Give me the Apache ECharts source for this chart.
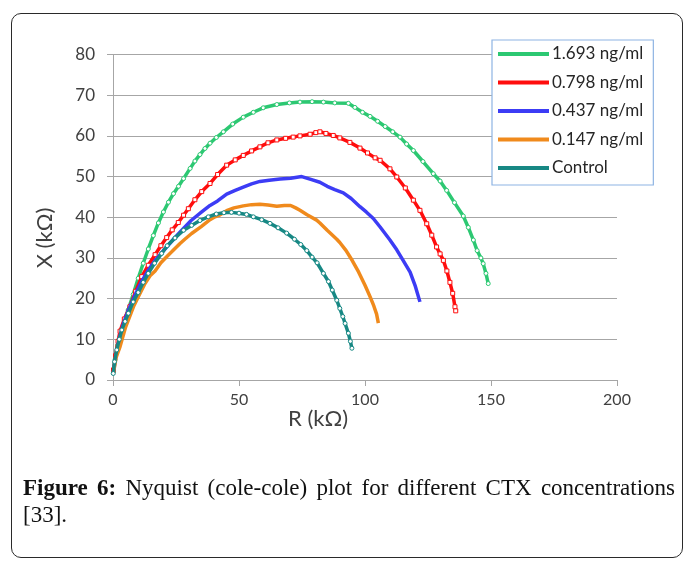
<!DOCTYPE html>
<html>
<head>
<meta charset="utf-8">
<script src="https://cdn.jsdelivr.net/npm/echarts@6/dist/echarts.min.js"></script>
<style>
  html, body { margin: 0; padding: 0; background: #fff; }
  #wrap { position: relative; width: 683px; height: 561px; overflow: hidden; }
  #chart { position: absolute; left: 0; top: 0; width: 683px; height: 561px; }
  #frame { position: absolute; left: 11px; top: 13px; width: 672px; height: 545px;
           border: 1.5px solid #2a2a2a; border-radius: 10px; box-sizing: border-box; pointer-events: none; }
  .cap { position: absolute; left: 23px; width: 652px; font-family: "Liberation Serif", "DejaVu Serif", serif;
         font-size: 23px; line-height: 27px; color: #111; white-space: nowrap; }
  #cap1 { top: 474px; text-align: justify; text-align-last: justify; }
  #cap2 { top: 501px; }
</style>
</head>
<body>
<div id="wrap">
  <div id="chart"></div>
  <div id="frame"></div>
  <div class="cap" id="cap1"><b>Figure 6:</b> Nyquist (cole-cole) plot for different CTX concentrations</div>
  <div class="cap" id="cap2">[33].</div>
</div>
<script>
// Series names (legend)
const seriesNames = ['1.693 ng/ml', '0.798 ng/ml', '0.437 ng/ml', '0.147 ng/ml', 'Control'];

// Axis tick settings
const xTicks = [0, 50, 100, 150, 200];
const yTicks = [0, 10, 20, 30, 40, 50, 60, 70, 80];
const xAxisTitle = 'R (kΩ)';
const yAxisTitle = 'X (kΩ)';

// Data: [R (kΩ), X (kΩ)]
const conc1693 = [
  [0.2,2.0],[0.8,5.0],[1.8,8.5],[3.0,11.5],[4.5,14.5],[6.0,17.2],[8.0,21.0],[10.0,25.0],[12.0,28.7],
  [14.0,32.2],[16.0,35.5],[18.0,38.6],[20.0,41.3],[22.0,43.7],[24.0,45.8],[26.0,47.6],[28.0,49.5],
  [30.6,52.0],[32.5,53.8],[34.5,55.4],[36.5,56.9],[38.5,58.2],[41.0,59.6],[43.8,61.0],[47.5,62.9],
  [51.7,64.6],[55.7,65.8],[59.6,66.9],[65.0,67.7],[70.0,68.1],[74.2,68.3],[79.0,68.4],[83.5,68.3],
  [88.0,68.1],[93.4,68.0],[96.0,67.0],[99.0,65.8],[102.0,64.8],[105.0,63.6],[108.0,62.3],[111.0,61.0],
  [113.9,59.7],[116.5,58.0],[119.2,56.4],[123.0,53.7],[127.1,50.7],[129.8,48.9],[132.4,46.6],
  [135.5,43.6],[139.0,40.3],[141.0,37.5],[143.0,34.4],[144.5,31.8],[146.0,30.0],[146.9,28.6],
  [148.0,26.2],[148.9,23.7]
];
const conc0798 = [
  [0.2,2.5],[1.0,6.0],[2.0,9.5],[2.8,12.0],[4.5,15.0],[6.7,18.0],[9.0,21.8],[11.4,25.4],[14.0,28.2],
  [16.7,30.8],[19.0,33.0],[21.3,35.0],[23.5,36.9],[25.9,38.7],[28.0,40.5],[29.9,42.1],[32.5,44.3],
  [35.2,46.3],[38.5,48.3],[41.5,50.5],[45.1,52.8],[48.5,54.1],[51.7,55.2],[55.0,56.3],[58.3,57.3],
  [61.5,58.3],[65.0,59.0],[68.5,59.4],[71.5,59.7],[74.2,60.0],[78.2,60.4],[80.5,60.8],[82.1,61.0],
  [84.5,60.6],[87.4,60.1],[90.0,59.5],[94.0,58.4],[98.0,57.0],[101.0,55.8],[104.0,54.6],[106.0,54.0],
  [109.9,51.9],[112.6,49.9],[116.0,47.2],[119.2,44.2],[121.8,41.7],[124.5,38.4],[126.5,35.6],
  [128.4,32.7],[129.8,31.0],[131.1,29.4],[132.5,26.8],[133.7,24.0],[134.8,21.3],[135.7,18.0],[136.0,17.0]
];
const conc0437 = [
  [0.2,2.0],[1.2,6.0],[2.5,10.2],[4.0,13.6],[6.0,17.0],[8.5,20.5],[11.0,23.8],[14.0,27.0],[17.0,29.6],
  [20.6,32.2],[24.0,34.6],[27.3,36.8],[31.0,39.2],[35.2,41.3],[38.5,42.9],[41.5,44.0],[45.1,45.7],
  [48.5,46.6],[51.7,47.4],[55.0,48.2],[58.3,48.8],[62.0,49.1],[66.3,49.4],[70.5,49.6],[74.9,50.0],
  [78.5,49.3],[82.1,48.6],[85.0,47.6],[88.0,46.8],[91.4,46.0],[94.5,44.6],[98.0,42.6],[100.5,41.3],
  [103.3,39.7],[106.0,37.6],[109.9,34.4],[112.6,32.0],[115.0,29.5],[117.9,26.5],[120.0,23.0],[121.8,19.2]
];
const conc0147 = [
  [0.2,1.8],[1.2,5.5],[2.8,8.2],[5.0,13.0],[8.1,18.0],[10.0,20.4],[12.5,23.5],[14.7,25.6],[16.7,26.8],
  [19.0,28.8],[21.3,30.3],[23.3,31.5],[26.5,33.5],[28.5,34.6],[31.2,36.0],[35.0,37.7],[38.5,39.4],
  [40.5,40.1],[42.5,40.6],[45.1,41.6],[48.0,42.3],[51.7,42.8],[55.0,43.1],[58.3,43.2],[61.5,43.0],
  [65.0,42.7],[68.0,42.9],[70.5,42.9],[72.5,42.3],[74.2,41.7],[77.0,40.6],[80.8,39.3],[82.1,38.6],
  [85.0,36.8],[88.8,34.6],[90.0,33.8],[92.5,31.8],[95.0,29.3],[97.5,26.5],[100.0,23.3],[102.0,20.5],
  [103.5,18.2],[104.6,16.2],[105.3,14.0]
];
const control = [
  [0.1,1.6],[0.6,4.5],[1.5,7.4],[2.5,10.0],[3.5,12.3],[4.8,14.4],[6.1,16.4],[8.0,19.2],[10.0,21.5],
  [12.0,24.0],[14.0,26.2],[16.5,28.7],[19.3,31.1],[21.5,33.0],[24.6,34.9],[28.0,36.8],[31.2,38.0],
  [34.5,39.2],[37.8,40.1],[41.0,40.8],[44.0,41.1],[47.0,41.2],[50.0,41.0],[53.0,40.7],[55.7,40.1],
  [59.0,39.4],[62.3,38.5],[65.5,37.4],[68.9,36.1],[72.0,34.6],[74.5,33.3],[76.9,31.8],[79.0,30.2],
  [81.0,28.8],[83.5,26.2],[85.5,24.2],[87.0,22.1],[88.8,19.6],[90.0,17.6],[91.2,15.6],[92.1,13.9],
  [93.4,11.5],[94.2,9.5],[94.8,7.8]
];

const seriesData = [conc1693, conc0798, conc0437, conc0147, control];
const colors = ['#2cc872', '#ff0d0d', '#3c3cf5', '#f08a1c', '#178884'];
const symbols = ['circle', 'rect', 'none', 'none', 'circle'];

const chart = echarts.init(document.getElementById('chart'), null, { renderer: 'canvas' });
const FONT = 'Lato, "Open Sans", sans-serif';

const option = {
  animation: false,
  backgroundColor: 'transparent',
  grid: { left: 113, top: 54.5, right: 66, bottom: 181, containLabel: false },
  xAxis: {
    type: 'value', min: xTicks[0], max: xTicks[xTicks.length - 1], interval: 50,
    axisLine: { show: true, lineStyle: { color: '#a6a6a6', width: 1 } },
    axisTick: { show: true, length: 6, lineStyle: { color: '#a6a6a6' } },
    axisLabel: { color: '#404040', fontSize: 16, fontFamily: FONT, margin: 12 },
    splitLine: { show: false }
  },
  yAxis: {
    type: 'value', min: yTicks[0], max: yTicks[yTicks.length - 1], interval: 10,
    axisLine: { show: true, lineStyle: { color: '#a6a6a6', width: 1 } },
    axisTick: { show: true, length: 6, inside: false, lineStyle: { color: '#a6a6a6' } },
    axisLabel: { color: '#404040', fontSize: 17, fontFamily: FONT, margin: 18 },
    splitLine: { show: true, lineStyle: { color: '#a6a6a6', width: 1 } }
  },
  legend: {
    orient: 'vertical', left: 492, top: 40,
    backgroundColor: '#fff', borderColor: '#8eb4e3', borderWidth: 1.2,
    padding: [5, 10, 8, 6], itemGap: 10.5,
    icon: 'rect', itemWidth: 51, itemHeight: 4,
    textStyle: { fontSize: 17, fontFamily: FONT, color: '#262626', lineHeight: 18, padding: [0, 0, 0, -2] },
    data: seriesNames.map((n, i) => ({ name: n, icon: 'rect', itemStyle: { color: colors[i], borderWidth: 0 } }))
  },
  graphic: [
    { type: 'text', left: 320 - 32, top: 408, style: { text: xAxisTitle, font: '22px ' + FONT, fill: '#404040' } },
    { type: 'text', x: 45, y: 238, rotation: Math.PI / 2, style: { text: yAxisTitle, font: '22px ' + FONT, fill: '#404040', textAlign: 'center', textVerticalAlign: 'middle' } }
  ],
  series: seriesNames.map((name, i) => ({
    name: name,
    type: 'line',
    data: seriesData[i],
    color: colors[i],
    showSymbol: symbols[i] !== 'none',
    symbol: symbols[i] === 'none' ? 'circle' : symbols[i],
    symbolSize: 4,
    itemStyle: { color: '#ffffff', borderColor: colors[i], borderWidth: 1 },
    lineStyle: { color: colors[i], width: 3.5 },
    z: 2 + i,
    clip: false
  }))
};
chart.setOption(option);
</script>
</body>
</html>
